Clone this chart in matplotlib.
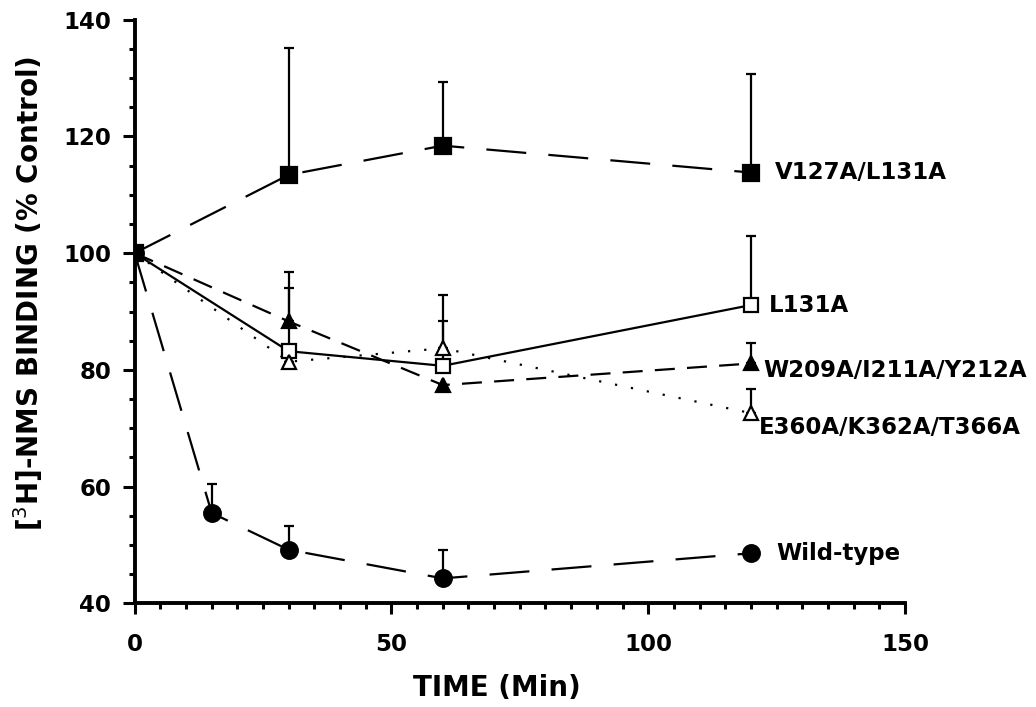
import matplotlib.pyplot as plt
from matplotlib.ticker import MultipleLocator

# time points (min) and % control binding for each mutant
time_wt = [0, 15, 30, 60, 120]
wild_type = [100, 55.5, 49.2, 44.3, 48.6]
wild_type_err = [0, 5.0, 4.1, 4.9, 0]

time = [0, 30, 60, 120]
v127a = [100, 113.4, 118.4, 113.8]
v127a_err = [0, 21.8, 10.9, 16.9]

l131a = [100, 83.2, 80.7, 91.1]
l131a_err = [0, 10.8, 7.7, 11.9]

w209a = [100, 88.3, 77.4, 81.1]
w209a_err = [0, 8.5, 0, 3.5]

e360a = [100, 81.4, 83.7, 72.6]
e360a_err = [0, 0, 9.1, 4.1]

label_font = dict(family='DejaVu Sans', weight='bold', size=16.5)
axis_font = dict(family='DejaVu Sans', weight='bold', size=20)

fig = plt.figure(figsize=(10.36, 7.07), dpi=100)
ax = fig.add_axes([0.130, 0.1464, 0.7435, 0.826])

# each series: x, y, upper error, marker, fill, linestyle, label, label offset, marker size
series = [
    (time, v127a, v127a_err, 's', 'black', (0, (18, 10)), 'V127A/L131A', (17, 0), 11),
    (time, l131a, l131a_err, 's', 'white', '-', 'L131A', (13, 0), 10),
    (time, w209a, w209a_err, '^', 'black', (0, (9, 5.5)), 'W209A/I211A/Y212A', (9, -5), 10.5),
    (time, e360a, e360a_err, '^', 'white', (0, (1, 6.3)), 'E360A/K362A/T366A', (6, -10), 10.5),
    (time_wt, wild_type, wild_type_err, 'o', 'black', (0, (18, 10)), 'Wild-type', (18, 0), 12),
]

for x, y, err, mk, fc, ls, name, off, ms in series:
    ax.errorbar(x, y, yerr=[[0] * len(err), err], fmt='none', ecolor='black',
                elinewidth=1.6, capsize=3.5, capthick=1.6, zorder=2)
    ax.plot(x, y, linestyle=ls, color='black', linewidth=1.6, zorder=3)
    ax.plot(x, y, linestyle='none', marker=mk, markersize=ms, markerfacecolor=fc,
            markeredgecolor='black', markeredgewidth=1.6, zorder=4)
    ax.annotate(name, (x[-1], y[-1]), xytext=off, textcoords='offset points',
                ha='left', va='center', annotation_clip=False, **label_font)

ax.set_xlim(0, 150)
ax.set_ylim(40, 140)
ax.xaxis.set_major_locator(MultipleLocator(50))
ax.xaxis.set_minor_locator(MultipleLocator(5))
ax.yaxis.set_major_locator(MultipleLocator(20))
ax.yaxis.set_minor_locator(MultipleLocator(5))

for side in ['top', 'right']:
    ax.spines[side].set_visible(False)
for side in ['left', 'bottom']:
    ax.spines[side].set_linewidth(2.8)
    ax.spines[side].set_capstyle('projecting')

ax.tick_params(which='major', direction='out', length=9, width=2.2, pad=8)
ax.tick_params(which='minor', direction='out', length=4.5, width=2.2)
ax.tick_params(axis='x', which='major', length=8, pad=13)
for lbl in ax.get_xticklabels() + ax.get_yticklabels():
    lbl.set_fontfamily('DejaVu Sans')
    lbl.set_fontweight('heavy')
    lbl.set_fontsize(16.5)

ax.set_xlabel('TIME (Min)', **axis_font)
ax.set_ylabel('[$^{3}$H]-NMS BINDING (% Control)', **axis_font)
ax.xaxis.set_label_coords(0.47, -0.12)
ax.yaxis.set_label_coords(-0.117, 0.53)

plt.savefig('out.png', dpi=100)
